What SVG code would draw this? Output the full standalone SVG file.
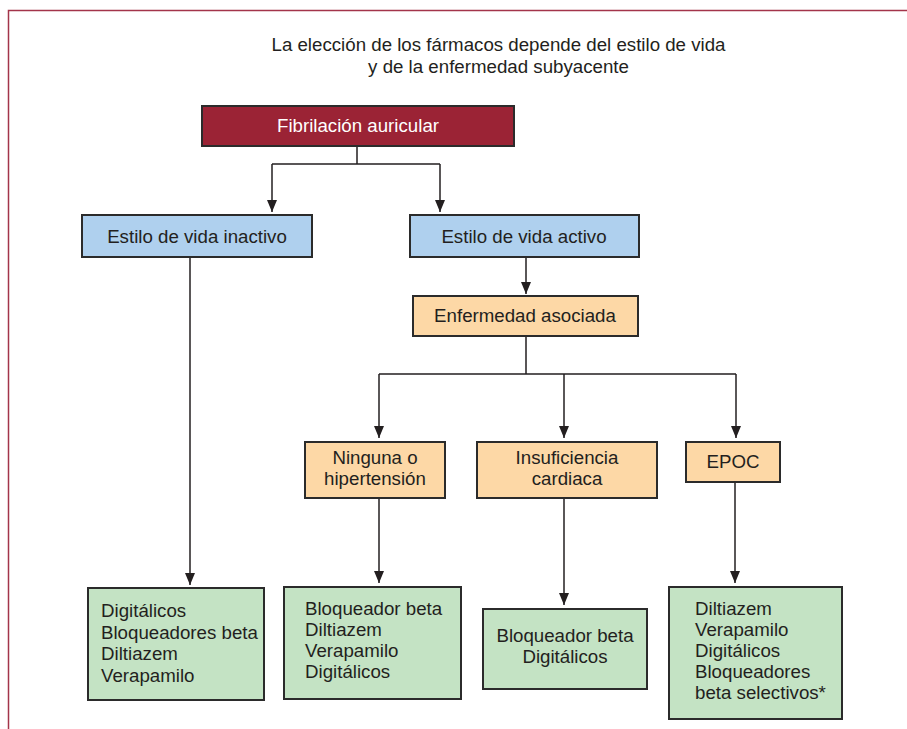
<svg xmlns="http://www.w3.org/2000/svg" width="907" height="729" viewBox="0 0 907 729">
<defs>
<style>
text{font-family:"Liberation Sans",Arial,sans-serif;font-size:18.7px;fill:#231f20}
.c{text-anchor:middle}
.box{stroke:#2b2b2b;stroke-width:2}
.red{fill:#9b2335}
.blue{fill:#afd0ee}
.orange{fill:#fdd8a6}
.green{fill:#c4e3c4}
.ln{fill:none;stroke:#231f20;stroke-width:1.5}
</style>
<marker id="arr" viewBox="0 0 12 10" refX="12" refY="5" markerWidth="12" markerHeight="10" markerUnits="userSpaceOnUse" orient="auto">
<path d="M0,0 L12,5 L0,10 Z" fill="#231f20"/>
</marker>
</defs>
<rect x="0" y="0" width="907" height="729" fill="#ffffff"/>
<path d="M8.5,729 L8.5,10.5 L907,10.5" fill="none" stroke="#a3344a" stroke-width="1.5"/>
<g id="title">
<text class="c" x="498.5" y="51">La elección de los fármacos depende del estilo de vida</text>
<text class="c" x="498.5" y="73">y de la enfermedad subyacente</text>
</g>
<g id="connectors">
<path class="ln" d="M357,146 V164 M272,164 H440"/>
<path class="ln" d="M272,164 V212" marker-end="url(#arr)"/>
<path class="ln" d="M440,164 V212" marker-end="url(#arr)"/>
<path class="ln" d="M190,257 V585" stroke-width="1.2" marker-end="url(#arr)"/>
<path class="ln" d="M526,257 V294" marker-end="url(#arr)"/>
<path class="ln" d="M526,336 V374 M379,374 H736"/>
<path class="ln" d="M379,374 V438" marker-end="url(#arr)"/>
<path class="ln" d="M564,374 V438" marker-end="url(#arr)"/>
<path class="ln" d="M736,374 V438" marker-end="url(#arr)"/>
<path class="ln" d="M379,498 V583" marker-end="url(#arr)"/>
<path class="ln" d="M564,498 V605" marker-end="url(#arr)"/>
<path class="ln" d="M735,482 V583" marker-end="url(#arr)"/>
</g>
<g id="fibrilacion">
<rect class="box red" x="202" y="106" width="312" height="40"/>
<text class="c" x="358" y="132" style="fill:#ffffff">Fibrilación auricular</text>
</g>
<g id="inactivo">
<rect class="box blue" x="82" y="215" width="230" height="42"/>
<text class="c" x="197" y="243">Estilo de vida inactivo</text>
</g>
<g id="activo">
<rect class="box blue" x="410" y="215" width="229" height="42"/>
<text class="c" x="524" y="243">Estilo de vida activo</text>
</g>
<g id="enfermedad">
<rect class="box orange" x="413" y="296" width="225" height="40"/>
<text class="c" x="525" y="322">Enfermedad asociada</text>
</g>
<g id="ninguna">
<rect class="box orange" x="305" y="442" width="140" height="56"/>
<text class="c" x="375" y="464">Ninguna o</text>
<text class="c" x="375" y="485">hipertensión</text>
</g>
<g id="insuficiencia">
<rect class="box orange" x="477" y="442" width="180" height="56"/>
<text class="c" x="567" y="464">Insuficiencia</text>
<text class="c" x="567" y="485">cardiaca</text>
</g>
<g id="epoc">
<rect class="box orange" x="686" y="442" width="94" height="40"/>
<text class="c" x="733" y="468">EPOC</text>
</g>
<g id="tx-inactivo">
<rect class="box green" x="88" y="588" width="176" height="112"/>
<text x="101" y="617">Digitálicos</text>
<text x="101" y="638.5">Bloqueadores beta</text>
<text x="101" y="660">Diltiazem</text>
<text x="101" y="681.5">Verapamilo</text>
</g>
<g id="tx-ninguna">
<rect class="box green" x="284" y="587" width="177" height="112"/>
<text x="305" y="615">Bloqueador beta</text>
<text x="305" y="636">Diltiazem</text>
<text x="305" y="657">Verapamilo</text>
<text x="305" y="678">Digitálicos</text>
</g>
<g id="tx-insuficiencia">
<rect class="box green" x="483" y="609" width="164" height="80"/>
<text class="c" x="565" y="642">Bloqueador beta</text>
<text class="c" x="565" y="663">Digitálicos</text>
</g>
<g id="tx-epoc">
<rect class="box green" x="669" y="587" width="173" height="132"/>
<text x="695" y="615">Diltiazem</text>
<text x="695" y="636">Verapamilo</text>
<text x="695" y="657">Digitálicos</text>
<text x="695" y="678">Bloqueadores</text>
<text x="695" y="699">beta selectivos*</text>
</g>
</svg>
